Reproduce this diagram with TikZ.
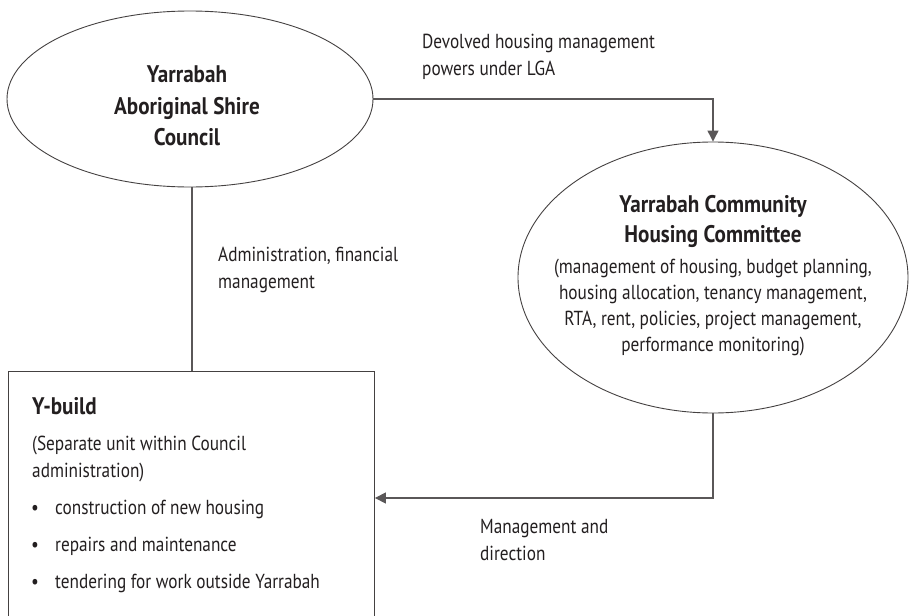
\documentclass[tikz,border=0pt]{standalone}
\usepackage{fontspec}
\setmainfont{PT Sans}[FakeStretch=0.85]
\newfontfamily\bfam{PT Sans}[FakeStretch=0.88]
\usetikzlibrary{shapes.geometric,arrows.meta}
\definecolor{ink}{HTML}{231F20}
\tikzset{
  shapeline/.style={draw=ink!85, line width=0.9pt},
  conn/.style={draw=ink!75, line width=1.2pt},
  tip/.style={-{Triangle[length=11pt,width=11pt]}},
  ellbox/.style={shapeline, ellipse, inner sep=0pt},
  txt/.style={anchor=base west, inner sep=0pt, text=ink, font=\fontsize{20.3}{24}\selectfont},
  ctxt/.style={anchor=base, inner sep=0pt, text=ink, font=\fontsize{20.3}{24}\selectfont},
  btxt/.style={anchor=base, inner sep=0pt, text=ink, font=\bfam\fontsize{24}{28}\selectfont\bfseries},
}
\begin{document}
\begin{tikzpicture}[x=1pt,y=-1pt]
\useasboundingbox (0,0) rectangle (914,616);
\clip (0,0) rectangle (914,616);
% shapes
\node[ellbox, minimum width=366pt, minimum height=176pt] (council) at (190,99) {};
\node[ellbox, minimum width=390pt, minimum height=271pt] (committee) at (713,277.5) {};
\node[shapeline, rectangle, anchor=north west, minimum width=366pt, minimum height=270pt, inner sep=0pt] (ybuild) at (8,371) {};
% council text
\node[btxt] (c1) at (187,82) {Yarrabah};
\node[btxt] (c2) at (187,114) {Aboriginal Shire};
\node[btxt] (c3) at (187,145) {Council};
% committee text
\node[btxt] (h1) at (713,212) {Yarrabah Community};
\node[btxt] (h2) at (713,242) {Housing Committee};
\node[ctxt] (h3) at (713,273) {(management of housing, budget planning,};
\node[ctxt] (h4) at (713,299) {housing allocation, tenancy management,};
\node[ctxt] (h5) at (713,325) {RTA, rent, policies, project management,};
\node[ctxt] (h6) at (713,351) {performance monitoring)};
% ybuild text
\node[btxt, anchor=base west] (y1) at (32,414) {Y-build};
\node[txt] (y2) at (32,450) {(Separate unit within Council};
\node[txt] (y3) at (32,477) {administration)};
\node[txt] (b1) at (31,514) {\textbullet};
\node[txt] (y4) at (55,514) {construction of new housing};
\node[txt] (b2) at (31,551) {\textbullet};
\node[txt] (y5) at (55,551) {repairs and maintenance};
\node[txt] (b3) at (31,588) {\textbullet};
\node[txt] (y6) at (55,588) {tendering for work outside Yarrabah};
% connector labels
\node[txt] (l1) at (422,48) {Devolved housing management};
\node[txt] (l2) at (422,75) {powers under LGA};
\node[txt] (l3) at (218,261) {Administration, financial};
\node[txt] (l4) at (218,288) {management};
\node[txt] (l5) at (480,533) {Management and};
\node[txt] (l6) at (480,560) {direction};
% connectors
\draw[conn] (council.south -| 192,0) -- (192,0 |- ybuild.north);
\draw[conn, tip] (council.east) -| (committee.north);
\coordinate (turn) at (committee.south |- 0,498);
\draw[conn, tip] (committee.south) -- (turn) -- (turn -| ybuild.east);
\end{tikzpicture}
\end{document}
